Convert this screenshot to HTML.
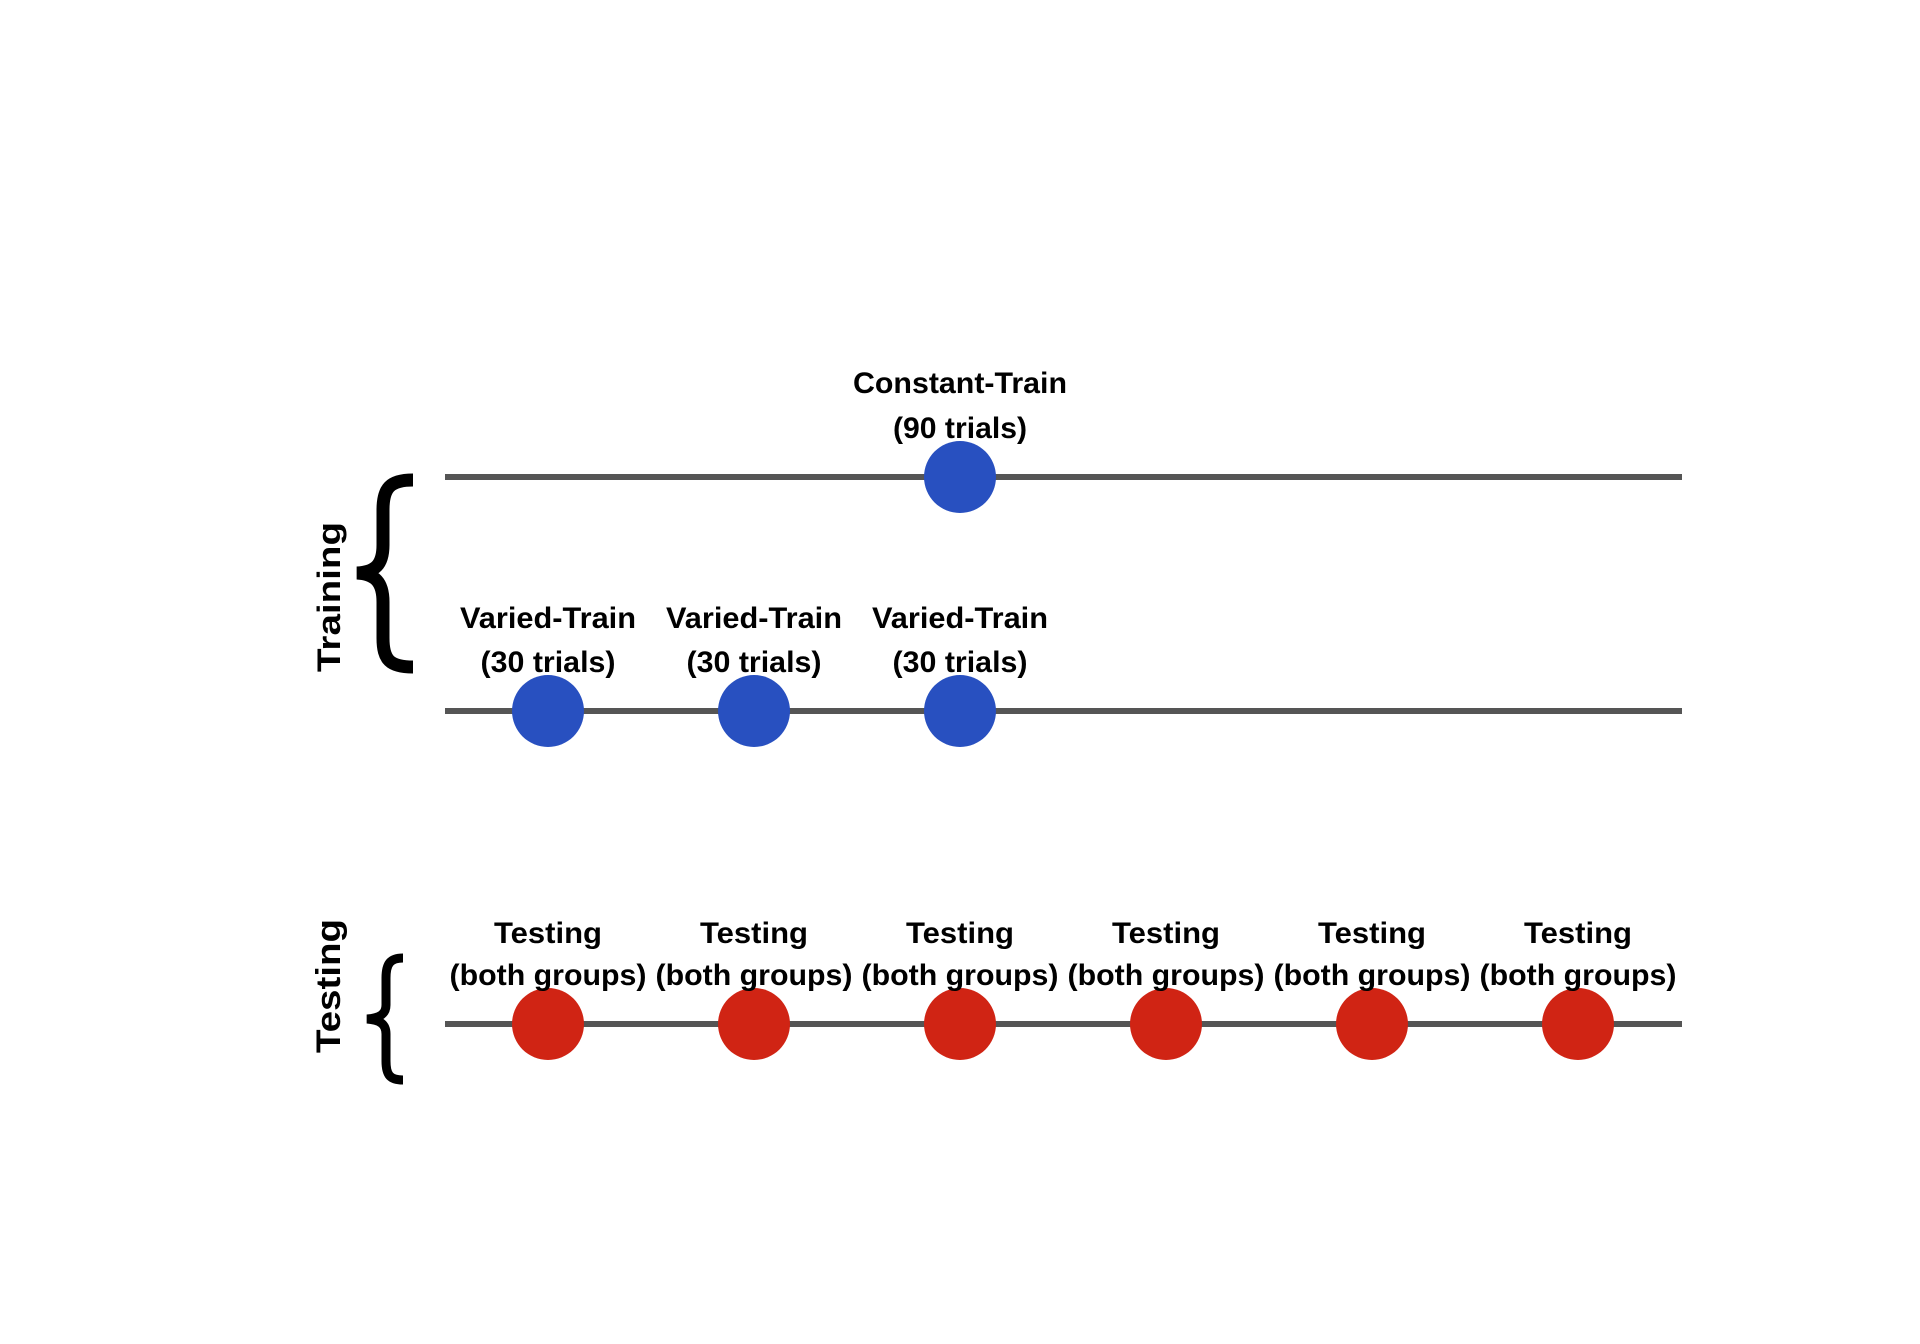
<!DOCTYPE html>
<html><head><meta charset="utf-8"><style>
html,body{margin:0;padding:0;background:#fff;width:1920px;height:1344px;overflow:hidden}
svg text{font-family:"Liberation Sans",Arial,sans-serif;font-weight:bold;fill:#000}
</style></head><body>
<svg width="1920" height="1344" viewBox="0 0 1920 1344" xmlns="http://www.w3.org/2000/svg">
<g stroke="#555" stroke-width="6">
<line x1="445" y1="477" x2="1682" y2="477"/>
<line x1="445" y1="711" x2="1682" y2="711"/>
<line x1="445" y1="1024" x2="1682" y2="1024"/>
</g>
<g fill="#2850c0">
<circle cx="960" cy="477" r="36"/>
<circle cx="548" cy="711" r="36"/>
<circle cx="754" cy="711" r="36"/>
<circle cx="960" cy="711" r="36"/>
</g>
<g fill="#d02414">
<circle cx="548" cy="1024" r="36"/>
<circle cx="754" cy="1024" r="36"/>
<circle cx="960" cy="1024" r="36"/>
<circle cx="1166" cy="1024" r="36"/>
<circle cx="1372" cy="1024" r="36"/>
<circle cx="1578" cy="1024" r="36"/>
</g>
<g font-size="30" text-anchor="middle" lengthAdjust="spacingAndGlyphs">
<text x="960" y="393" textLength="214" lengthAdjust="spacingAndGlyphs">Constant-Train</text>
<text x="960" y="438" textLength="134" lengthAdjust="spacingAndGlyphs">(90 trials)</text>
<text x="548" y="628" textLength="176" lengthAdjust="spacingAndGlyphs">Varied-Train</text><text x="548" y="672" textLength="135" lengthAdjust="spacingAndGlyphs">(30 trials)</text>
<text x="754" y="628" textLength="176" lengthAdjust="spacingAndGlyphs">Varied-Train</text><text x="754" y="672" textLength="135" lengthAdjust="spacingAndGlyphs">(30 trials)</text>
<text x="960" y="628" textLength="176" lengthAdjust="spacingAndGlyphs">Varied-Train</text><text x="960" y="672" textLength="135" lengthAdjust="spacingAndGlyphs">(30 trials)</text>
<text x="548" y="943" textLength="108" lengthAdjust="spacingAndGlyphs">Testing</text><text x="548" y="985" textLength="197" lengthAdjust="spacingAndGlyphs">(both groups)</text>
<text x="754" y="943" textLength="108" lengthAdjust="spacingAndGlyphs">Testing</text><text x="754" y="985" textLength="197" lengthAdjust="spacingAndGlyphs">(both groups)</text>
<text x="960" y="943" textLength="108" lengthAdjust="spacingAndGlyphs">Testing</text><text x="960" y="985" textLength="197" lengthAdjust="spacingAndGlyphs">(both groups)</text>
<text x="1166" y="943" textLength="108" lengthAdjust="spacingAndGlyphs">Testing</text><text x="1166" y="985" textLength="197" lengthAdjust="spacingAndGlyphs">(both groups)</text>
<text x="1372" y="943" textLength="108" lengthAdjust="spacingAndGlyphs">Testing</text><text x="1372" y="985" textLength="197" lengthAdjust="spacingAndGlyphs">(both groups)</text>
<text x="1578" y="943" textLength="108" lengthAdjust="spacingAndGlyphs">Testing</text><text x="1578" y="985" textLength="197" lengthAdjust="spacingAndGlyphs">(both groups)</text>
</g>
<text font-size="32" text-anchor="middle" transform="translate(340,597) rotate(-90)" textLength="150" lengthAdjust="spacingAndGlyphs">Training</text>
<text font-size="34" text-anchor="middle" transform="translate(340,986) rotate(-90)" textLength="134" lengthAdjust="spacingAndGlyphs">Testing</text>
<g fill="none" stroke="#000" stroke-linecap="butt">
<path d="M413,480 C390,480 383,488 383,510 L383,545 C383,565 375,572 357,573 C375,574 383,582 383,602 L383,638 C383,660 390,667 413,667" stroke-width="13"/>
<path d="M403,958 C390,958 386,964 386,978 L386,1005 C386,1014 380,1018 367,1019 C380,1020 386,1024 386,1034 L386,1061 C386,1075 390,1080 403,1080" stroke-width="9"/>
</g>
</svg>
</body></html>
